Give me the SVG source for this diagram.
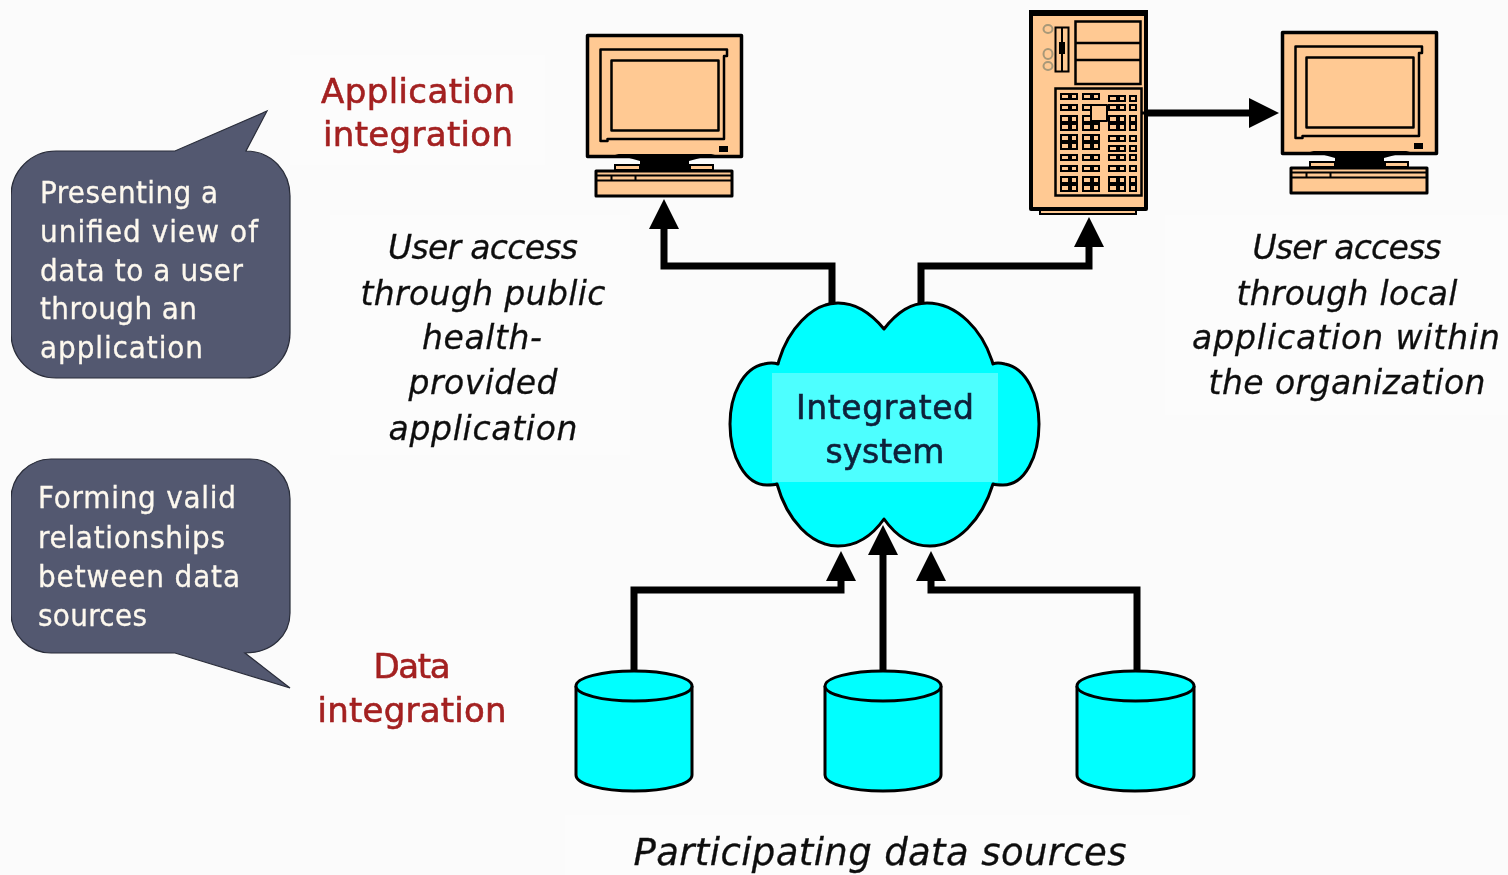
<svg xmlns="http://www.w3.org/2000/svg" width="1508" height="875" viewBox="0 0 1508 875">
<style>
.bg{fill:#fbfbfb}
.pane{fill:#fcfcfc}
.txt{font-family:"DejaVu Sans",sans-serif;text-anchor:middle}
.red{font-size:34px;fill:#a32020;stroke:#a32020;stroke-width:.6}
.it{font-size:33px;font-style:italic;fill:#111;stroke:#111;stroke-width:.3}
.sys{font-size:33px;fill:#10203a;stroke:#10203a;stroke-width:.6}
.call{font-family:"DejaVu Sans Condensed","DejaVu Sans",sans-serif;font-size:31px;fill:#fdf8ee;stroke:#fdf8ee;stroke-width:.3}
.bubble{fill:#525870;stroke:#2a2d3a;stroke-width:1.2}
.tan{fill:#ffc993;stroke:#000;stroke-linejoin:round}
.cyl{fill:#00ffff;stroke:#000;stroke-width:3}
.conn{fill:none;stroke:#000;stroke-width:7;stroke-linejoin:miter}
.k{fill:#000}
.o{fill:#ffc993}
</style>
<defs>
<filter id="soft" x="0" y="0" width="100%" height="100%"><feGaussianBlur stdDeviation="0.5"/></filter>
<marker id="ah" markerUnits="userSpaceOnUse" viewBox="0 0 30 30" refX="2" refY="15" markerWidth="30" markerHeight="30" orient="auto"><path d="M0 0L30 15L0 30Z"/></marker>
<g id="monitor">
<rect class="tan" x="587.500" y="35.500" width="154" height="121" stroke-width="3.500"/>
<path class="tan" stroke-width="2.500" d="M600.500 49.500H727V56H724V139H607.500V141H600.500Z"/>
<rect class="tan" x="611.500" y="60.500" width="107" height="70" stroke-width="2.500"/>
<rect class="k" x="719" y="146" width="9" height="6"/>
<path class="k" d="M615 154H715L689 161V164H714V172H614V164H640V161Z"/>
<rect class="o" x="616" y="166" width="23" height="3"/>
<rect class="o" x="691" y="166" width="21" height="3"/>
<rect class="tan" x="596" y="171" width="136" height="25" stroke-width="3"/>
<path d="M596 175.500H732M596 180.500H732" stroke="#000" stroke-width="2" fill="none"/>
<path d="M611.500 176V180M635.500 176V180" stroke="#000" stroke-width="2" fill="none"/>
</g>
<g id="cS"><rect class="k" x="0" y="0" width="18" height="7"/><rect class="o" x="2" y="2" width="6" height="3"/><rect class="o" x="12" y="2" width="4" height="3"/></g>
<g id="cD"><rect class="k" x="0" y="0" width="18" height="16"/><rect class="o" x="2" y="2" width="6" height="4"/><rect class="o" x="12" y="2" width="4" height="4"/><rect class="o" x="2" y="10" width="6" height="4"/><rect class="o" x="12" y="10" width="4" height="4"/></g>
<g id="nS"><rect class="k" x="0" y="0" width="8" height="7"/><rect class="o" x="2" y="2" width="4" height="3"/></g>
<g id="nD"><rect class="k" x="0" y="0" width="8" height="16"/><rect class="o" x="2" y="2" width="4" height="4"/><rect class="o" x="2" y="10" width="4" height="4"/></g>
</defs>
<rect class="bg" width="1508" height="875"/>
<g filter="url(#soft)">
<rect class="pane" x="290" y="55" width="255" height="110"/>
<rect class="pane" x="330" y="215" width="300" height="240"/>
<rect class="pane" x="1165" y="215" width="343" height="200"/>
<rect class="pane" x="290" y="630" width="240" height="110"/>
<rect class="pane" x="565" y="815" width="625" height="60"/>

<g id="connectors">
<path class="conn" d="M832 304V266H664V227" marker-end="url(#ah)"/>
<path class="conn" d="M921 304V266H1089V245" marker-end="url(#ah)"/>
<path class="conn" d="M1146 113H1251" marker-end="url(#ah)"/>
<path class="conn" d="M634 673V590H841V579" marker-end="url(#ah)"/>
<path class="conn" d="M883 671V553" marker-end="url(#ah)"/>
<path class="conn" d="M1137 673V590H931V579" marker-end="url(#ah)"/>
</g>

<g id="callout-view">
<path class="bubble" d="M56 151H175L267 111L246 151C272 151 290 172 290 196V333C290 358 270 378 245 378H56C31 378 11 358 11 333V196C11 171 31 151 56 151Z"/>
<text class="call" x="40" y="203" textLength="178">Presenting a</text>
<text class="call" x="40" y="242" textLength="218">unified view of</text>
<text class="call" x="40" y="281" textLength="203">data to a user</text>
<text class="call" x="40" y="319" textLength="157">through an</text>
<text class="call" x="40" y="358" textLength="163">application</text>
</g>
<g id="callout-data">
<path class="bubble" d="M51 459H250C272 459 290 477 290 499V613C290 635 272 653 245 653L290 688L175 653H51C29 653 11 635 11 613V499C11 477 29 459 51 459Z"/>
<text class="call" x="38" y="508" textLength="198">Forming valid</text>
<text class="call" x="38" y="548" textLength="187">relationships</text>
<text class="call" x="38" y="587" textLength="202">between data</text>
<text class="call" x="38" y="626" textLength="109">sources</text>
</g>

<g id="label-application"><text class="txt red" x="418" y="103" textLength="194">Application</text><text class="txt red" x="418" y="146" textLength="190">integration</text></g>
<g id="label-data"><text class="txt red" x="412" y="678" textLength="77">Data</text><text class="txt red" x="412" y="722" textLength="189">integration</text></g>
<g id="label-public">
<text class="txt it" x="483" y="259" textLength="190">User access</text>
<text class="txt it" x="483" y="305" textLength="245">through public</text>
<text class="txt it" x="482" y="349" textLength="120">health-</text>
<text class="txt it" x="483" y="394" textLength="149">provided</text>
<text class="txt it" x="483" y="440" textLength="189">application</text>
</g>
<g id="label-local">
<text class="txt it" x="1347" y="259" textLength="189">User access</text>
<text class="txt it" x="1347" y="305" textLength="221">through local</text>
<text class="txt it" x="1346" y="349" textLength="308">application within</text>
<text class="txt it" x="1347" y="394" textLength="277">the organization</text>
</g>
<g id="label-sources"><text class="txt it" x="880" y="865" style="font-size:37px" textLength="493">Participating data sources</text></g>

<g id="monitor-public"><use href="#monitor"/></g>
<g id="monitor-local"><use href="#monitor" x="695" y="-3"/></g>

<g id="server">
<rect class="o" x="1040" y="208" width="96" height="6" stroke="#000" stroke-width="2"/>
<rect class="tan" x="1031" y="12" width="115" height="197" stroke-width="4"/>
<rect class="k" x="1029" y="10" width="119" height="6"/>
<path d="M1075.500 21.500H1140.500V84H1075.500ZM1075.500 43H1140.500M1075.500 60H1140.500" fill="none" stroke="#000" stroke-width="2.500"/>
<rect x="1055.500" y="27.500" width="13" height="44" fill="none" stroke="#000" stroke-width="2"/>
<path d="M1062 28V71" stroke="#000" stroke-width="2"/>
<rect class="k" x="1059" y="42" width="6" height="12"/>
<g fill="none" stroke="#a89878" stroke-width="2"><ellipse cx="1048" cy="29" rx="4.500" ry="4"/><ellipse cx="1048" cy="54" rx="4.500" ry="5"/><ellipse cx="1048" cy="66" rx="4.500" ry="4"/></g>
<rect x="1055.500" y="88.500" width="86" height="107" fill="none" stroke="#000" stroke-width="2.500"/>
<path d="M1142 113H1148" stroke="#000" stroke-width="3"/>
<use href="#cS" x="1060" y="93"/><use href="#cS" x="1082" y="93"/><use href="#cS" x="1108" y="95"/><use href="#nS" x="1129" y="95"/>
<use href="#cS" x="1060" y="104"/><use href="#cS" x="1082" y="104"/><use href="#cS" x="1108" y="104"/><use href="#nS" x="1129" y="104"/>
<use href="#cD" x="1060" y="115"/><use href="#cD" x="1082" y="115"/><use href="#cD" x="1108" y="115"/><use href="#nD" x="1129" y="115"/>
<use href="#cD" x="1060" y="134"/><use href="#cD" x="1082" y="134"/><use href="#cS" x="1108" y="135"/><use href="#nS" x="1129" y="135"/>
<use href="#cS" x="1108" y="145"/><use href="#nS" x="1129" y="145"/>
<use href="#cS" x="1060" y="154"/><use href="#cS" x="1082" y="154"/><use href="#cS" x="1108" y="154"/><use href="#nS" x="1129" y="154"/>
<use href="#cS" x="1060" y="165"/><use href="#cS" x="1082" y="165"/><use href="#cS" x="1108" y="165"/><use href="#nS" x="1129" y="165"/>
<use href="#cD" x="1060" y="176"/><use href="#cD" x="1082" y="176"/><use href="#cD" x="1108" y="176"/><use href="#nD" x="1129" y="176"/>
<rect class="tan" x="1091" y="105" width="16" height="16" stroke-width="2"/>
</g>

<g id="cloud">
<path fill="#00ffff" stroke="#000" stroke-width="3" stroke-linejoin="round" d="M884 329C870 312 855 303 838 303C812 303 787 330 778 364C772 362 768 363 764 364C743 368 730 395 730 424C730 456 745 485 767 485C771 485 774 485 777 484C787 520 811 546 838 546C857 546 872 536 884 519C896 536 911 546 930 546C957 546 982 520 993 484C996 485 999 485 1003 485C1025 485 1039 456 1039 424C1039 395 1026 368 1005 364C1001 363 997 362 993 364C983 330 957 303 927 303C911 303 897 312 884 329Z"/>
<rect x="772" y="373" width="226" height="109" fill="#4dffff"/>
<text class="txt sys" x="885" y="419" textLength="178">Integrated</text>
<text class="txt sys" x="885" y="463" textLength="119">system</text>
</g>

<g id="db-1"><path class="cyl" d="M576 686V775C576 784 602 791 634 791S692 784 692 775V686"/><ellipse class="cyl" cx="634" cy="686" rx="58" ry="15"/></g>
<g id="db-2"><path class="cyl" d="M825 686V775C825 784 851 791 883 791S941 784 941 775V686"/><ellipse class="cyl" cx="883" cy="686" rx="58" ry="15"/></g>
<g id="db-3"><path class="cyl" d="M1077 686V775C1077 784 1103 791 1135 791S1194 784 1194 775V686"/><ellipse class="cyl" cx="1135.500" cy="686" rx="58.500" ry="15"/></g>
</g>
</svg>
